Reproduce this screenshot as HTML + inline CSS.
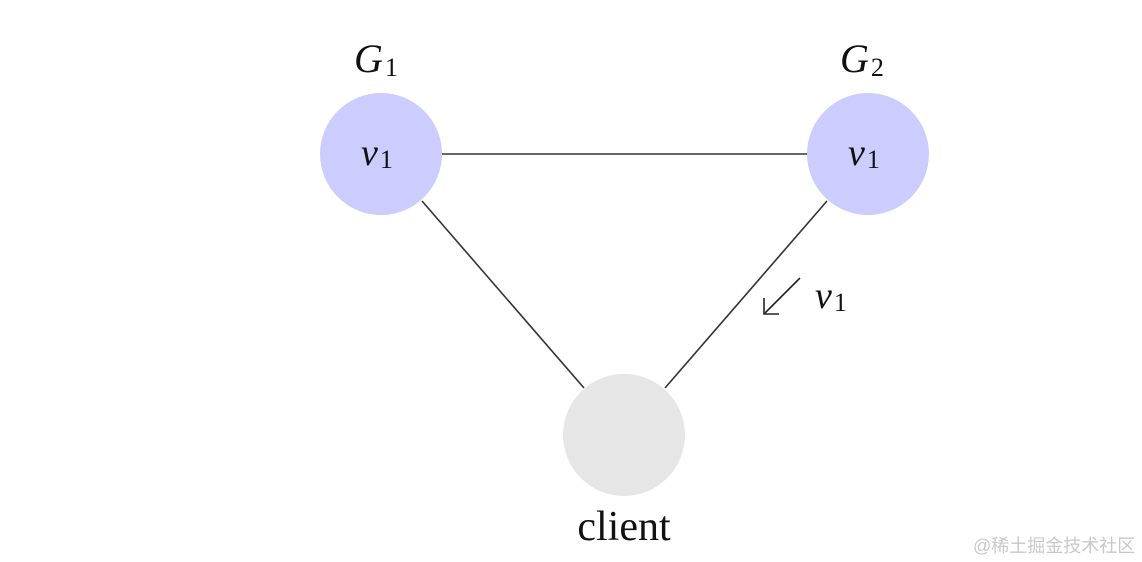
<!DOCTYPE html>
<html><head><meta charset="utf-8"><style>
html,body{margin:0;padding:0;background:#fff;}
svg{display:block}
text{font-family:"Liberation Serif",serif;fill:#111}
</style></head><body>
<svg width="1142" height="562" viewBox="0 0 1142 562" xmlns="http://www.w3.org/2000/svg">
<line x1="442" y1="154" x2="807" y2="154" stroke="#333" stroke-width="1.6"/>
<line x1="422" y1="201" x2="584" y2="388" stroke="#333" stroke-width="1.6"/>
<line x1="827" y1="201" x2="665" y2="388" stroke="#333" stroke-width="1.6"/>
<circle cx="381" cy="154" r="61" fill="#ccccff"/>
<circle cx="868" cy="154" r="61" fill="#ccccff"/>
<circle cx="624" cy="435" r="61" fill="#e6e6e6"/>
<text x="354" y="72" font-size="40" font-style="italic">G<tspan font-size="26" font-style="normal" dx="2" dy="4">1</tspan></text>
<text x="840" y="72" font-size="40" font-style="italic">G<tspan font-size="26" font-style="normal" dx="2" dy="4">2</tspan></text>
<text x="361" y="165" font-size="38" font-style="italic">v<tspan font-size="26" font-style="normal" dx="2" dy="3">1</tspan></text>
<text x="848" y="165" font-size="38" font-style="italic">v<tspan font-size="26" font-style="normal" dx="2" dy="3">1</tspan></text>
<text x="815" y="308" font-size="38" font-style="italic">v<tspan font-size="26" font-style="normal" dx="2" dy="3">1</tspan></text>
<line x1="800" y1="278" x2="765" y2="313" stroke="#222" stroke-width="1.6"/>
<path d="M764 298 L764 314 L779 314" fill="none" stroke="#222" stroke-width="1.6"/>
<text x="624" y="540" font-size="42" text-anchor="middle">client</text>
<text x="973" y="552" font-size="18" style="fill:#c8c8c8;font-family:'Liberation Sans','Noto Sans CJK SC',sans-serif">@稀土掘金技术社区</text>
</svg>
</body></html>
